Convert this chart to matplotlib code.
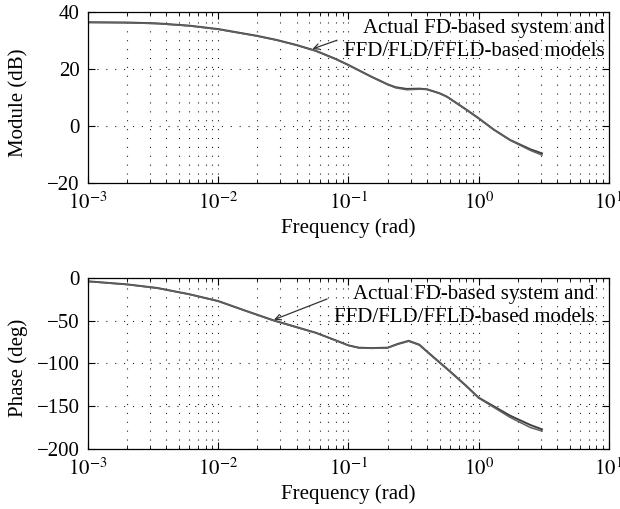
import matplotlib
matplotlib.use("Agg")
import matplotlib.pyplot as plt
import numpy as np

plt.rcParams['font.family'] = ['Liberation Serif', 'DejaVu Serif']
plt.rcParams['mathtext.fontset'] = 'stix'

# 크기 응답 (dB)
freq_mag = [1e-3, 2e-3, 3.4e-3, 6e-3, 1e-2, 2e-2, 2.8e-2, 4e-2, 5.6e-2, 0.08, 0.1, 0.15,
            0.2, 0.23, 0.28, 0.35, 0.4, 0.5, 0.57, 0.8, 1.0, 1.3, 1.74, 2.5, 3.06]
mag_actual = [36.4, 36.3, 36.0, 35.2, 34.0, 31.6, 30.2, 28.4, 26.4, 23.5, 21.4, 17.3,
              14.6, 13.6, 13.0, 13.1, 12.9, 11.5, 10.3, 5.8, 2.7, -1.2, -4.9, -8.2, -9.6]
mag_model = [36.3, 36.2, 35.9, 35.1, 33.9, 31.5, 30.1, 28.3, 26.3, 23.4, 21.3, 17.2,
             14.5, 13.4, 12.7, 12.9, 12.8, 11.4, 10.2, 5.7, 2.6, -1.3, -5.0, -8.6, -10.2]

# 위상 응답 (deg)
freq_ph = [1e-3, 2e-3, 3.4e-3, 6e-3, 1e-2, 1.6e-2, 2.65e-2, 4e-2, 5.6e-2, 0.08, 0.1, 0.12,
           0.15, 0.2, 0.24, 0.29, 0.35, 0.43, 0.6, 0.8, 1.0, 1.74, 2.5, 3.06]
ph_actual = [-3.9, -7.5, -11.7, -19, -27, -38, -49.5, -57.5, -64, -73, -78.8, -81.5,
             -82, -81.5, -77, -73.5, -78, -90, -109, -126, -140, -161, -172, -177]
ph_model = [-4.1, -7.7, -11.9, -19.2, -27.2, -38.2, -49.8, -57.8, -64.2, -73.2, -79, -81.8,
            -82.3, -81.8, -77.5, -74, -78.5, -90.5, -109.5, -126.5, -140.5, -163, -175, -179]

label_txt = "Actual FD-based system and\nFFD/FLD/FFLD-based models"
xticks = [1e-3, 1e-2, 1e-1, 1e0, 1e1]
xticklabels = [r'$10^{-3}$', r'$10^{-2}$', r'$10^{-1}$', r'$10^{0}$', r'$10^{1}$']
fs = 15

fig = plt.figure(figsize=(6.2, 5.09), dpi=100)
ax1 = fig.add_axes([0.1419, 0.6405, 0.8403, 0.336])
ax2 = fig.add_axes([0.1419, 0.1179, 0.8403, 0.336])

grid_style = dict(color='#222222', linestyle=(0, (1, 7)), linewidth=0.8)


def style_axes(ax, ylim, yticks):
    ax.set_xscale('log')
    ax.set_xlim(1e-3, 1e1)
    ax.set_ylim(*ylim)
    ax.set_yticks(yticks)
    ax.set_xticks(xticks)
    ax.set_xticklabels(xticklabels)
    ax.tick_params(which='both', direction='in', top=True, right=True, labelsize=fs)
    ax.tick_params(which='major', length=5)
    ax.tick_params(which='minor', length=3)
    ax.tick_params(axis='x', which='major', pad=7)
    ax.tick_params(axis='y', which='major', pad=6)
    ax.grid(True, which='both', axis='x', **grid_style)
    ax.grid(True, which='major', axis='y', **grid_style)
    ax.set_xlabel('Frequency (rad)', fontsize=fs, labelpad=3)
    for s in ax.spines.values():
        s.set_linewidth(0.9)


ax1.plot(freq_mag, mag_actual, color='#404040', linewidth=1.4)
ax1.plot(freq_mag, mag_model, color='#606060', linewidth=1.1)
style_axes(ax1, (-20, 40), [-20, 0, 20, 40])
ax1.set_ylabel('Module (dB)', fontsize=fs)
ax1.yaxis.set_label_coords(-0.115, 0.47)
ax1.annotate('', xy=(0.0505, 26.7), xytext=(0.0855, 30.4),
             arrowprops=dict(arrowstyle='->', color='#333333', linewidth=0.9))
ax1.text(9.3, 30.2, label_txt, ha='right', va='center', fontsize=fs, linespacing=1.3)

ax2.plot(freq_ph, ph_actual, color='#404040', linewidth=1.4)
ax2.plot(freq_ph, ph_model, color='#606060', linewidth=1.1)
style_axes(ax2, (-200, 0), [-200, -150, -100, -50, 0])
ax2.set_ylabel('Phase (deg)', fontsize=fs)
ax2.yaxis.set_label_coords(-0.115, 0.475)
ax2.annotate('', xy=(0.0256, -50), xytext=(0.0717, -23.4),
             arrowprops=dict(arrowstyle='->', color='#333333', linewidth=0.9))
ax2.text(7.8, -32.6, label_txt, ha='right', va='center', fontsize=fs, linespacing=1.3)

fig.savefig('out.png', dpi=100)
